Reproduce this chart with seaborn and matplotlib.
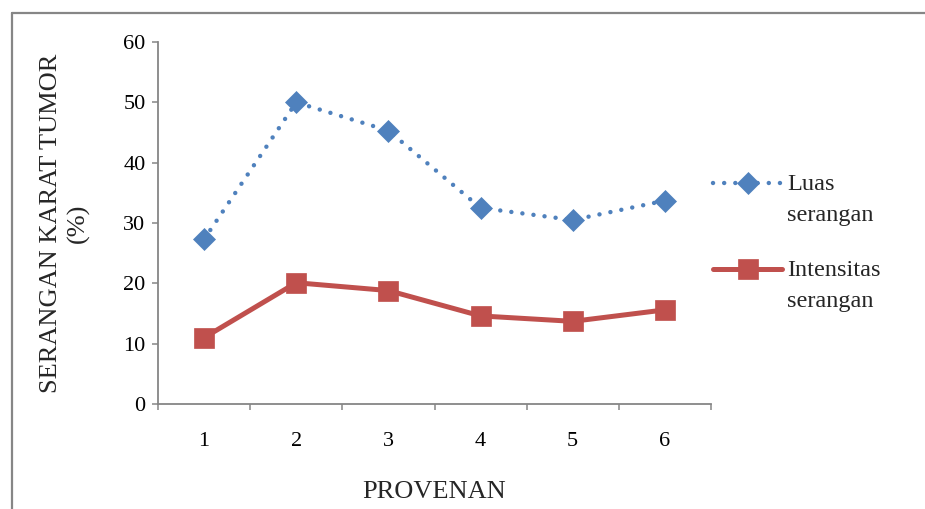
import numpy as np
import pandas as pd
import matplotlib
matplotlib.use("Agg")
import matplotlib.pyplot as plt
from matplotlib.lines import Line2D
from matplotlib.legend_handler import HandlerLine2D
import seaborn as sns

# ---- data ----
provenan = [1, 2, 3, 4, 5, 6]
luas = [27.3, 50.0, 45.3, 32.5, 30.5, 33.7]
intensitas = [11.0, 20.1, 18.8, 14.6, 13.7, 15.6]
y_ticks = [0, 10, 20, 30, 40, 50, 60]
label_luas = "Luas\nserangan"
label_int = "Intensitas\nserangan"

sns.set_style("white")
plt.rcParams["font.family"] = ["Liberation Serif", "DejaVu Serif"]

BLUE = "#4F81BD"
RED = "#C0504D"
GREY = "#868686"

fig = plt.figure(figsize=(9.25, 5.09), dpi=100)
ax = fig.add_axes([158 / 925, 1 - 404 / 509, (711 - 158) / 925, (404 - 42) / 509])

df = pd.DataFrame({"provenan": provenan, "luas": luas, "intensitas": intensitas})

sns.lineplot(data=df, x="provenan", y="luas", ax=ax, color=BLUE, lw=3.2,
             linestyle=(0, (0.01, 2.5)), dash_capstyle="round",
             marker="D", markersize=11.5, markeredgecolor=BLUE,
             markeredgewidth=0.5, label=label_luas)
sns.lineplot(data=df, x="provenan", y="intensitas", ax=ax, color=RED, lw=3.6,
             marker="s", markersize=14, markeredgecolor=RED,
             markeredgewidth=0.5, label=label_int)

ax.set_xlim(0.5, 6.5)
ax.set_ylim(0, 60)
ax.set_yticks(y_ticks)
ax.set_yticklabels([str(v) for v in y_ticks])
ax.set_xticks(np.arange(0.5, 7.0, 1.0))
ax.set_xticklabels([])
ax.set_xticks(provenan, minor=True)
ax.set_xticklabels([str(v) for v in provenan], minor=True)
ax.tick_params(axis="y", which="major", length=4, width=1.1, color=GREY,
               direction="out", left=True, labelsize=16, pad=5, labelcolor="black")
ax.tick_params(axis="x", which="major", length=4, width=1.1, color=GREY,
               direction="out", bottom=True)
ax.tick_params(axis="x", which="minor", length=0, labelsize=16, pad=20,
               labelcolor="black")

for s in ["top", "right"]:
    ax.spines[s].set_visible(False)
for s in ["left", "bottom"]:
    ax.spines[s].set_color(GREY)
    ax.spines[s].set_linewidth(1.3)

ax.set_xlabel("PROVENAN", fontsize=19)
ax.xaxis.set_label_coords(0.5, -0.212)
ax.set_ylabel("SERANGAN KARAT TUMOR\n(%)", fontsize=19, linespacing=1.25)
ax.yaxis.set_label_coords(-0.124, 0.5)


class UpHandler(HandlerLine2D):
    def create_artists(self, legend, orig_handle, xdescent, ydescent, width,
                       height, fontsize, trans):
        arts = super().create_artists(legend, orig_handle, xdescent, ydescent,
                                      width, height, fontsize, trans)
        for a in arts:
            a.set_ydata(np.asarray(a.get_ydata()) + 0.66 * fontsize)
        return arts


handles, labels = ax.get_legend_handles_labels()
leg = ax.legend(handles, labels, loc="upper left",
                bbox_to_anchor=(713 / 925, 1 - 174 / 509),
                bbox_transform=fig.transFigure, frameon=False,
                fontsize=17.5, handlelength=2.85, handletextpad=0.2,
                labelspacing=1.42, borderpad=0, borderaxespad=0,
                handler_map={Line2D: UpHandler(numpoints=1)})
for t in leg.get_texts():
    t.set_linespacing(1.6)

# outer frame of chart
fig.add_artist(Line2D([12 / 925, 12 / 925], [0, 1 - 13 / 509],
                      transform=fig.transFigure, color=GREY, lw=1.6))
fig.add_artist(Line2D([12 / 925, 1], [1 - 13 / 509, 1 - 13 / 509],
                      transform=fig.transFigure, color=GREY, lw=1.6))

fig.savefig("out.png", dpi=100)
